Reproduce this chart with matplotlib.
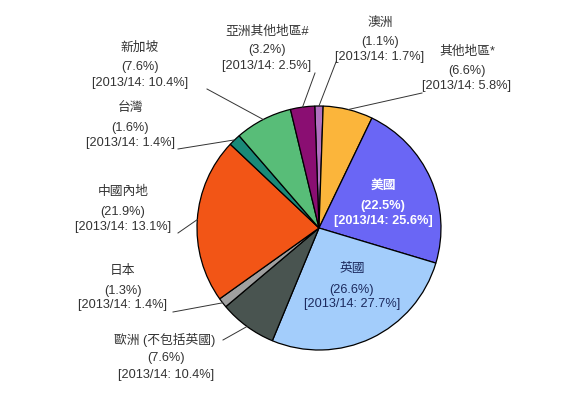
import matplotlib
matplotlib.use("Agg")
import matplotlib.pyplot as plt
import numpy as np

plt.rcParams['font.family'] = ['Liberation Sans', 'Noto Sans CJK TC', 'DejaVu Sans']

# Data (clockwise from top)
names = ['澳洲', '其他地區*', '美國', '英國', '歐洲 (不包括英國)', '日本', '中國內地', '台灣', '新加坡', '亞洲其他地區#']
share = [1.1, 6.6, 22.5, 26.6, 7.6, 1.3, 21.9, 1.6, 7.6, 3.2]
prev = [1.7, 5.8, 25.6, 27.7, 10.4, 1.4, 13.1, 1.4, 10.4, 2.5]
colors = ['#b070c0', '#fbb53b', '#6a66f5', '#a3cdfb', '#495450', '#a0a0a0', '#f25516', '#198a78', '#58bd78', '#8a0e72']

W, H = 586, 395
CX, CY, R = 319, 228, 122
fig = plt.figure(figsize=(W / 100, H / 100), dpi=100)
ax = fig.add_axes([(CX - R) / W, (H - CY - R) / H, 2 * R / W, 2 * R / H])

START = 92
wedges, _ = ax.pie(share, colors=colors, startangle=START, counterclock=False, radius=1,
                   wedgeprops=dict(edgecolor='black', linewidth=0.9))
ax.set_xlim(-1, 1)
ax.set_ylim(-1, 1)
ax.axis('off')

def d(px, py):
    return ((px - CX) / R, (CY - py) / R)

# label layout: (center x px, line y px list, leader end px or None)
layout = {
    0: (380, [23, 42, 57], (336, 62)),
    1: (467, [52, 71, 86], (422, 93)),
    2: (383, [187, 206, 221], None),
    3: (352, [269, 290, 304], None),
    4: (166, [340, 358, 375], (223, 340)),
    5: (123, [271, 291, 305], (173, 312)),
    6: (123, [192, 212, 227], (178, 233)),
    7: (130, [108, 128, 143], (178, 149)),
    8: (140, [48, 67, 83], (207, 89)),
    9: (267, [32, 50, 66], (315, 73)),
}

fs = 9.2
for i, w in enumerate(wedges):
    cx, ys, end = layout[i]
    lines = [names[i], f'({share[i]}%)', f'[2013/14: {prev[i]}%]']
    if i == 2:
        col, wt = 'white', 'bold'
    elif i == 3:
        col, wt = '#1c2a5e', 'normal'
    else:
        col, wt = '#333333', 'normal'
    for j, (t, y) in enumerate(zip(lines, ys)):
        x = cx
        if i == 4 and j == 0:
            x = 165
        ax.text(*d(x, y), t, ha='center', va='center', fontsize=fs, color=col,
                fontweight=wt, clip_on=False)
    if end is not None:
        mid = np.deg2rad((w.theta1 + w.theta2) / 2)
        p0 = (np.cos(mid), np.sin(mid))
        p1 = d(*end)
        ax.plot([p0[0], p1[0]], [p0[1], p1[1]], color='#333333', lw=0.7, clip_on=False)

fig.savefig('out.png', dpi=100)
